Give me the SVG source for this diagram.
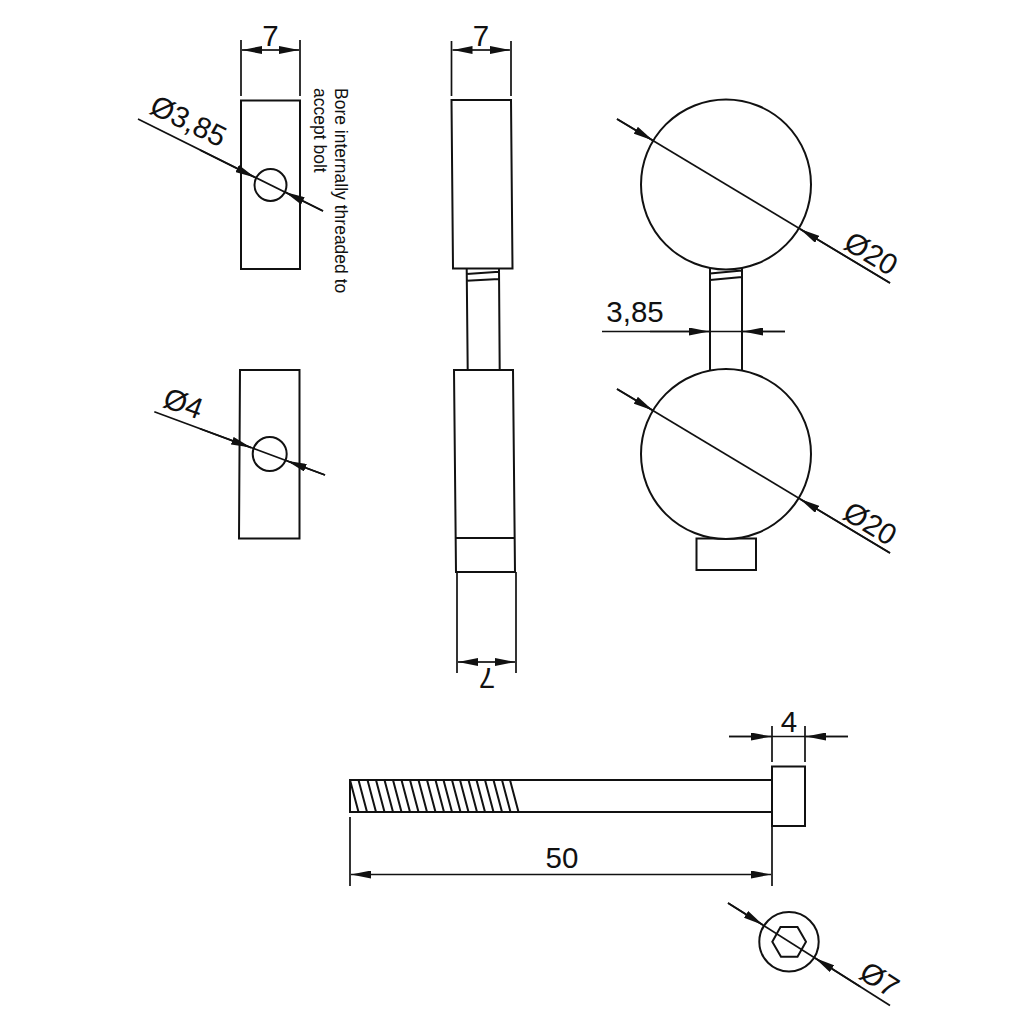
<svg xmlns="http://www.w3.org/2000/svg" width="1024" height="1024" viewBox="0 0 1024 1024">
<style>
.s{fill:none;stroke:#111;stroke-width:2}
.n{fill:#fff;stroke:#111;stroke-width:2}
.d{fill:none;stroke:#111;stroke-width:1.7}
.t{font-family:"Liberation Sans",Arial,sans-serif;font-size:29.500px;fill:#111;text-anchor:middle}
.b{font-family:"Liberation Sans",Arial,sans-serif;font-size:17.500px;fill:#111}
</style>
<defs>
<marker id="ar" viewBox="0 0 20 8" refX="20" refY="4" markerWidth="20" markerHeight="8" markerUnits="userSpaceOnUse" orient="auto"><path d="M0 0L20 4L0 8Z" fill="#111"/></marker>
</defs>
<rect width="1024" height="1024" fill="#fff"/>
<g id="block-top">
<rect class="s" x="241" y="100.500" width="59" height="168.500"/>
<circle class="s" cx="270.500" cy="185" r="16"/>
</g>
<g id="block-bottom">
<path class="s" d="M240 370H299.500V538.500H239Z"/>
<circle class="s" cx="269.700" cy="454" r="17"/>
</g>
<g id="middle-view">
<path class="s" d="M466.700 269L467.700 370M499 269L499.700 370M466.700 274L499 271.700M466.700 280.700L499 279"/>
<path class="s" d="M451.500 100H511L512.500 268.500H453Z"/>
<path class="s" d="M454 370H513L515 572H456ZM455.700 538H514.700"/>
</g>
<g id="right-view">
<path class="s" d="M710 267V372M742 267V372M710 273.500L742 270.500M710 280L742 277"/>
<rect class="s" x="696.500" y="538.500" width="59.500" height="31.500"/>
<circle class="n" cx="726" cy="184.500" r="85"/>
<circle class="n" cx="726" cy="454" r="85"/>
</g>
<g id="bolt">
<path class="s" d="M772 780H350V812H772"/>
<path class="s" d="M350 780L358.500 812M358.500 780L367 812M367.500 780L376 812M376 780L384.500 812M384.500 780L393 812M393 780L401.500 812M401.500 780L410 812M410 780L418.500 812M418.500 780L427 812M427 780L435.500 812M435.500 780L444 812M443.500 780L452 812M452 780L460.500 812M460 780L468.500 812M468.500 780L477 812M476.500 780L485 812M485 780L493.500 812M493.500 780L502 812M502 780L510.500 812M510 780L518.500 812"/>
<rect class="s" x="772" y="766.500" width="33" height="59.500"/>
</g>
<g id="bolt-end">
<circle class="s" cx="789" cy="941.700" r="29.700"/>
<path class="s" d="M772.300 941.700L780.500 927H797.500L806 941.700L797.500 956.700H781Z"/>
</g>
<g id="connectors">
<path class="d" d="M241 40V96M300 40V96"/>
<path class="d" marker-end="url(#ar)" d="M270 50H242"/>
<path class="d" marker-end="url(#ar)" d="M270 50H299"/>
<path class="d" d="M451.500 41V96M511 41V96"/>
<path class="d" marker-end="url(#ar)" d="M481 50H452.500"/>
<path class="d" marker-end="url(#ar)" d="M481 50H510"/>
<path class="d" d="M138 119L323 211"/>
<path class="d" marker-end="url(#ar)" d="M200 150L255 177.500"/>
<path class="d" marker-end="url(#ar)" d="M323 211L285 192"/>
<path class="d" d="M154.300 411.700L325 475"/>
<path class="d" marker-end="url(#ar)" d="M200 428.700L251 447.600"/>
<path class="d" marker-end="url(#ar)" d="M325 475L286.700 460.800"/>
<path class="d" d="M457 572V673M516 572V673"/>
<path class="d" marker-end="url(#ar)" d="M486 662H458"/>
<path class="d" marker-end="url(#ar)" d="M486 662H515"/>
<path class="d" d="M617 119L890 283"/>
<path class="d" marker-end="url(#ar)" d="M617 119L653 140.500"/>
<path class="d" marker-end="url(#ar)" d="M890 283L800 229"/>
<path class="d" d="M617 389L890 553"/>
<path class="d" marker-end="url(#ar)" d="M617 389L653 410.500"/>
<path class="d" marker-end="url(#ar)" d="M890 553L800 499"/>
<path class="d" d="M602 331.500H785"/>
<path class="d" marker-end="url(#ar)" d="M650 331.500H709"/>
<path class="d" marker-end="url(#ar)" d="M785 331.500H743"/>
<path class="d" d="M772 726V762M805 726V762"/>
<path class="d" d="M729 736.500H848"/>
<path class="d" marker-end="url(#ar)" d="M729 736.500H771"/>
<path class="d" marker-end="url(#ar)" d="M848 736.500H806"/>
<path class="d" d="M350 817V886M772 826V886"/>
<path class="d" marker-end="url(#ar)" d="M560 874.500H351"/>
<path class="d" marker-end="url(#ar)" d="M560 874.500H771"/>
<path class="d" d="M728 903L890 1005.500"/>
<path class="d" marker-end="url(#ar)" d="M728 903L763 925"/>
<path class="d" marker-end="url(#ar)" d="M860 986.500L815 958"/>
</g>
<g id="labels">
<text class="t" x="270.500" y="46">7</text>
<text class="t" x="481" y="46">7</text>
<text class="t" transform="translate(184 130) rotate(26)">Ø3,85</text>
<text class="t" transform="translate(180 413) rotate(20)">Ø4</text>
<text class="t" transform="translate(487 668) rotate(180)">7</text>
<text class="t" transform="translate(866 262) rotate(31)">Ø20</text>
<text class="t" transform="translate(865 532) rotate(31)">Ø20</text>
<text class="t" x="635" y="322">3,85</text>
<text class="t" x="789" y="732">4</text>
<text class="t" x="562" y="868">50</text>
<text class="t" transform="translate(874 988) rotate(33)">Ø7</text>
<text class="b" transform="translate(335 88) rotate(90)">Bore internally threaded to</text>
<text class="b" transform="translate(314 88) rotate(90)">accept bolt</text>
</g>
</svg>
